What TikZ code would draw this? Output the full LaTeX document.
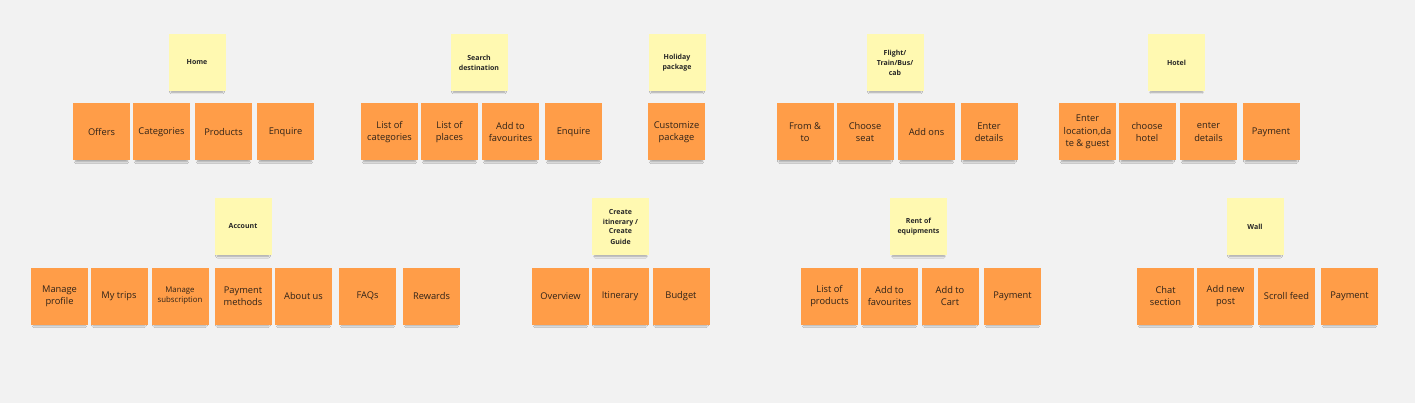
\documentclass[tikz,border=0pt]{standalone}
\usepackage{fontspec}
\setmainfont{Open Sans}
\usetikzlibrary{shadows.blur}
\definecolor{bg}{HTML}{F2F2F2}
\definecolor{stickyY}{HTML}{FFF9B1}
\definecolor{stickyO}{HTML}{FF9D48}
\definecolor{txtO}{HTML}{2E2218}
\tikzset{
  note/.style={rectangle, minimum width=57pt, minimum height=57pt, inner sep=0pt, align=center,
    blur shadow={shadow xshift=0pt, shadow yshift=-4.5pt, shadow opacity=35, shadow blur steps=8,
      shadow blur radius=2pt, shadow scale=0.9}},
  topic/.style={note, fill=stickyY, font=\fontsize{7}{10}\selectfont\bfseries, text=black!85},
  item/.style={note, fill=stickyO, font=\fontsize{9.3}{12.3}\selectfont, text=txtO},
  small/.style={font=\fontsize{7.8}{10.3}\selectfont},
}
\begin{document}
\begin{tikzpicture}[x=1pt,y=-1pt]
\fill[bg] (0,0) rectangle (1415,403);
\useasboundingbox (0,0) rectangle (1415,403);

% ---- Row 1 ----
\node[topic] (home) at (197,62.5) {Home};
\node[item] (offers) at (101.5,132) {Offers};
\node[item] (categories) at (161.5,132) {Categories};
\node[item] (products) at (223.5,132) {Products};
\node[item] (enquire1) at (285.5,132) {Enquire};

\node[topic] (search) at (479,62.5) {Search\\destination};
\node[item] (listcat) at (389.5,132) {List of\\categories};
\node[item] (listplaces) at (449.5,132) {List of\\places};
\node[item] (fav1) at (510.5,132) {Add to\\favourites};
\node[item] (enquire2) at (573.5,132) {Enquire};

\node[topic] (holiday) at (677,62.5) {Holiday\\package};
\node[item] (customize) at (676.5,132) {Customize\\package};

\node[topic] (flight) at (895,62.5) {Flight/\\Train/Bus/\\cab};
\node[item] (fromto) at (805,132) {From \&\\to};
\node[item] (seat) at (865,132) {Choose\\seat};
\node[item] (addons) at (926.5,132) {Add ons};
\node[item] (enterdet1) at (989,132) {Enter\\details};

\node[topic] (hotel) at (1176.5,62.5) {Hotel};
\node[item] (location) at (1087.5,132) {Enter\\location,da\\te \& guest};
\node[item] (choosehotel) at (1147,132) {choose\\hotel};
\node[item] (enterdet2) at (1208.5,132) {enter\\details};
\node[item] (pay1) at (1271,132) {Payment};

% ---- Row 2 ----
\node[topic] (account) at (243,226.5) {Account};
\node[item] (profile) at (59.5,296) {Manage\\profile};
\node[item] (trips) at (119,296) {My trips};
\node[item, small] (subscr) at (180,296) {Manage\\subscription};
\node[item] (paymeth) at (243,296) {Payment\\methods};
\node[item] (about) at (303.5,296) {About us};
\node[item] (faqs) at (367.5,296) {FAQs};
\node[item] (rewards) at (431.5,296) {Rewards};

\node[topic] (itin) at (620.5,226.5) {Create\\itinerary /\\Create\\Guide};
\node[item] (overview) at (560.5,296) {Overview};
\node[item] (itinerary) at (620,296) {Itinerary};
\node[item] (budget) at (681,296) {Budget};

\node[topic] (rent) at (918.5,226.5) {Rent of\\equipments};
\node[item] (listprod) at (829.5,296) {List of\\products};
\node[item] (fav2) at (889.5,296) {Add to\\favourites};
\node[item] (cart) at (950,296) {Add to\\Cart};
\node[item] (pay2) at (1012.5,296) {Payment};

\node[topic] (wall) at (1255,226.5) {Wall};
\node[item] (chat) at (1165.5,296) {Chat\\section};
\node[item] (newpost) at (1225.5,296) {Add new\\post};
\node[item] (scroll) at (1286.5,296) {Scroll feed};
\node[item] (pay3) at (1349.5,296) {Payment};
\end{tikzpicture}
\end{document}
